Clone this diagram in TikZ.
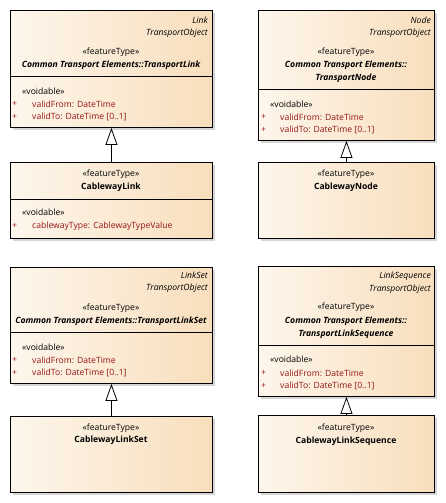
\documentclass[tikz,border=0pt]{standalone}
\usepackage{fontspec}
\setmainfont{Open Sans}
\usetikzlibrary{arrows.meta,shadows}
\definecolor{boxL}{HTML}{FDF6EC}
\definecolor{boxR}{HTML}{F8DEBC}
\definecolor{attr}{RGB}{150,20,20}
\definecolor{shad}{HTML}{D6D6D6}
\newcommand{\fsz}{\fontsize{8.6}{10}\selectfont}
\tikzset{
  umlbox/.style={draw=black, line width=0.9pt, left color=boxL, right color=boxR,
    anchor=north west, inner sep=0pt,
    drop shadow={shadow xshift=2.5pt, shadow yshift=-2.5pt, fill=shad, opacity=1}},
  txt/.style={inner sep=0pt, font=\fsz},
  ctr/.style={txt, anchor=center},
  bi/.style={ctr, font=\fsz\bfseries\itshape},
  bo/.style={ctr, font=\fsz\bfseries},
  rgt/.style={txt, anchor=east, font=\fsz\itshape},
  lft/.style={txt, anchor=west},
  red/.style={lft, text=attr},
  gen/.style={line width=0.8pt, -{Triangle[open,length=17pt,width=12pt,line width=0.8pt]}},
  divider/.style={line width=0.8pt}
}
\begin{document}
\begin{tikzpicture}[x=1pt,y=-1pt]
\useasboundingbox (0,0) rectangle (445,503);
% ---------- TransportLink ----------
\node[umlbox, minimum width=202pt, minimum height=117pt] (tl) at (10,10) {};
\draw[divider] (10,76) -- (212,76);
\node[rgt] (tl1) at (208,20) {Link};
\node[rgt] (tl2) at (208,33) {TransportObject};
\node[ctr] (tl3) at (111,52) {«featureType»};
\node[bi] (tl4) at (111,65) {Common Transport Elements::TransportLink};
\node[lft] (tl5) at (22,91) {«voidable»};
\node[red] (tl6) at (12,104) {+};
\node[red] (tl7) at (32,104) {validFrom: DateTime};
\node[red] (tl8) at (12,117) {+};
\node[red] (tl9) at (32,117) {validTo: DateTime [0..1]};
% ---------- CablewayLink ----------
\node[umlbox, minimum width=202pt, minimum height=76pt] (cl) at (10,162) {};
\draw[divider] (10,199) -- (212,199);
\node[ctr] (cl1) at (111,174) {«featureType»};
\node[bo] (cl2) at (111,187) {CablewayLink};
\node[lft] (cl3) at (22,212) {«voidable»};
\node[red] (cl4) at (12,226) {+};
\node[red] (cl5) at (32,226) {cablewayType: CablewayTypeValue};
\draw[gen] (cl.north) -- (tl.south);
% ---------- TransportNode ----------
\node[umlbox, minimum width=176pt, minimum height=130pt] (tn) at (258,10) {};
\draw[divider] (258,89) -- (434,89);
\node[rgt] (tn1) at (431,20) {Node};
\node[rgt] (tn2) at (431,33) {TransportObject};
\node[ctr] (tn3) at (346,52) {«featureType»};
\node[bi] (tn4) at (346,65) {Common Transport Elements::};
\node[bi] (tn5) at (346,78) {TransportNode};
\node[lft] (tn6) at (270,104) {«voidable»};
\node[red] (tn7) at (261,117) {+};
\node[red] (tn8) at (280,117) {validFrom: DateTime};
\node[red] (tn9) at (261,130) {+};
\node[red] (tn10) at (280,130) {validTo: DateTime [0..1]};
% ---------- CablewayNode ----------
\node[umlbox, minimum width=176pt, minimum height=76pt] (cn) at (258,162) {};
\node[ctr] (cn1) at (346,174) {«featureType»};
\node[bo] (cn2) at (346,187) {CablewayNode};
\draw[gen] (cn.north) -- (tn.south);
% ---------- TransportLinkSet ----------
\node[umlbox, minimum width=202pt, minimum height=116pt] (ts) at (10,267) {};
\draw[divider] (10,332) -- (212,332);
\node[rgt] (ts1) at (208,275) {LinkSet};
\node[rgt] (ts2) at (208,288) {TransportObject};
\node[ctr] (ts3) at (111,308) {«featureType»};
\node[bi] (ts4) at (111,321) {Common Transport Elements::TransportLinkSet};
\node[lft] (ts5) at (22,347) {«voidable»};
\node[red] (ts6) at (12,360) {+};
\node[red] (ts7) at (32,360) {validFrom: DateTime};
\node[red] (ts8) at (12,373) {+};
\node[red] (ts9) at (32,373) {validTo: DateTime [0..1]};
% ---------- CablewayLinkSet ----------
\node[umlbox, minimum width=202pt, minimum height=76pt] (cs) at (10,416) {};
\node[ctr] (cs1) at (111,428) {«featureType»};
\node[bo] (cs2) at (111,440) {CablewayLinkSet};
\draw[gen] (cs.north) -- (ts.south);
% ---------- TransportLinkSequence ----------
\node[umlbox, minimum width=176pt, minimum height=130pt] (tq) at (258,266) {};
\draw[divider] (258,345) -- (434,345);
\node[rgt] (tq1) at (431,276) {LinkSequence};
\node[rgt] (tq2) at (431,289) {TransportObject};
\node[ctr] (tq3) at (346,307) {«featureType»};
\node[bi] (tq4) at (346,321) {Common Transport Elements::};
\node[bi] (tq5) at (346,334) {TransportLinkSequence};
\node[lft] (tq6) at (270,359) {«voidable»};
\node[red] (tq7) at (261,373) {+};
\node[red] (tq8) at (280,373) {validFrom: DateTime};
\node[red] (tq9) at (261,386) {+};
\node[red] (tq10) at (280,386) {validTo: DateTime [0..1]};
% ---------- CablewayLinkSequence ----------
\node[umlbox, minimum width=176pt, minimum height=77pt] (cq) at (258,415) {};
\node[ctr] (cq1) at (346,428) {«featureType»};
\node[bo] (cq2) at (346,441) {CablewayLinkSequence};
\draw[gen] (cq.north) -- (tq.south);
\end{tikzpicture}
\end{document}
